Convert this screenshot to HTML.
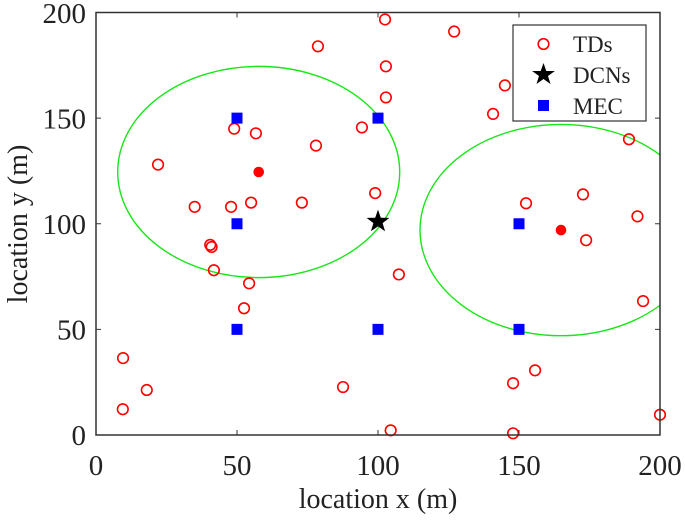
<!DOCTYPE html>
<html><head><meta charset="utf-8"><style>
body{margin:0;background:#fff}
svg{display:block}
</style></head><body>
<svg id="c" width="685" height="527" style="position:absolute;left:0;top:0"></svg>
<script>
const tdX=[102.5,78.7,102.8,102.8,49,56.7,94.3,78,22,99,35,47.9,55,73,40.5,41,41.8,54.3,52.5,9.6,18,9.5,87.6,104.5,127,145,140.8,189,152.5,172.7,192,173.8,107.4,194,155.7,147.9,200,147.9];
const tdY=[196.7,184,174.5,159.8,145,142.8,145.6,137,128,114.5,108,108,110,110,90,89,78,71.8,60,36.4,21.3,12.2,22.7,2.2,191,165.5,152,140,109.7,113.9,103.5,92.2,76,63.4,30.6,24.5,9.6,0.8];
const mecX=[50,100,50,50,100,150,150];
const mecY=[150,150,100,50,50,100,50];
const dcnX=[100];
const dcnY=[101];
const centerX=[57.7,164.9];
const centerY=[124.5,97];
const radius=[50,50];
const xTicks=[0,50,100,150,200];
const yTicks=[0,50,100,150,200];
const NS="http://www.w3.org/2000/svg";
const svg=document.getElementById('c');
const L=96,R=660,T=12.5,B=435;
const sx=v=>L+(v-0)/200*(R-L);
const sy=v=>B-(v-0)/200*(B-T);
function mk(tag,attrs,parent){const e=document.createElementNS(NS,tag);for(const k in attrs)e.setAttribute(k,attrs[k]);(parent||svg).appendChild(e);return e;}
const defs=mk('defs',{});
const cp=mk('clipPath',{id:'clip'},defs);
mk('rect',{x:L,y:T,width:R-L,height:B-T},cp);
const plot=mk('g',{'clip-path':'url(#clip)'});


for(let i=0;i<centerX.length;i++){
  const e=mk('ellipse',{cx:sx(centerX[i]),cy:sy(centerY[i]),rx:sx(radius[i])-sx(0),ry:sy(0)-sy(radius[i]),fill:'none',stroke:'#19e619','stroke-width':1.4},plot);
  
  
}
for(let i=0;i<tdX.length;i++){
  const e=mk('circle',{cx:sx(tdX[i]),cy:sy(tdY[i]),r:5.3,fill:'none',stroke:'#f00','stroke-width':1.6},svg);
  
  
}
for(let i=0;i<mecX.length;i++){
  const e=mk('rect',{x:sx(mecX[i])-5.5,y:sy(mecY[i])-5.5,width:11,height:11,fill:'#0000ff'},svg);
  
  
}
for(let i=0;i<centerX.length;i++){
  const e=mk('circle',{cx:sx(centerX[i]),cy:sy(centerY[i]),r:5.3,fill:'#f00'},svg);
  
  
}
function star(cx,cy,r){let p=[];for(let k=0;k<10;k++){const a=-Math.PI/2+k*Math.PI/5;const rr=k%2?r*0.4:r;p.push((cx+rr*Math.cos(a)).toFixed(1)+','+(cy+rr*Math.sin(a)).toFixed(1));}return p.join(' ');}
for(let i=0;i<dcnX.length;i++){
  const e=mk('polygon',{points:star(sx(dcnX[i]),sy(dcnY[i]),12),fill:'#000'},svg);
  
  
}
const frame=mk('rect',{x:L,y:T,width:R-L,height:B-T,fill:'none',stroke:'#333','stroke-width':1.5});


xTicks.forEach(v=>{
  mk('line',{x1:sx(v),x2:sx(v),y1:B,y2:B-5,stroke:'#333'});
  mk('line',{x1:sx(v),x2:sx(v),y1:T,y2:T+5,stroke:'#333'});
});
yTicks.forEach(v=>{
  mk('line',{x1:L,x2:L+5,y1:sy(v),y2:sy(v),stroke:'#333'});
  mk('line',{x1:R,x2:R-5,y1:sy(v),y2:sy(v),stroke:'#333'});
});
</script>
<svg style="position:absolute;left:0;top:0" width="685" height="527">
<g font-family="Liberation Serif, serif" font-size="29" fill="#222" text-anchor="middle">
<text x="96" y="475">0</text><text x="237" y="475">50</text><text x="378" y="475">100</text><text x="519" y="475">150</text><text x="660" y="475">200</text>
</g>
<g font-family="Liberation Serif, serif" font-size="29" fill="#222" text-anchor="end">
<text x="86" y="445">0</text><text x="86" y="339.5">50</text><text x="86" y="234">100</text><text x="86" y="128.5">150</text><text x="86" y="23">200</text>
</g>
<text x="378" y="508" text-anchor="middle" font-size="28" fill="#222" font-family="Liberation Serif, serif">location x (m)</text>
<text transform="translate(27,224) rotate(-90)" text-anchor="middle" font-size="28" fill="#222" font-family="Liberation Serif, serif">location y (m)</text>
<g font-family="Liberation Serif, serif" font-size="23" fill="#222">
<rect x="513" y="25" width="133" height="96" fill="#fff" stroke="#333" stroke-width="1.2"/>
<circle cx="543.5" cy="44" r="5.3" fill="none" stroke="#f00" stroke-width="1.6"/>
<text x="573" y="52">TDs</text>
<polygon points="543.5,63 546.3,71 554.9,71 548,76 550.5,84 543.5,79 536.5,84 539,76 532.1,71 540.7,71" fill="#000"/>
<text x="573" y="83">DCNs</text>
<rect x="538" y="100" width="11" height="11" fill="#0000ff"/>
<text x="573" y="114">MEC</text>
</g>
</svg>
</body></html>
